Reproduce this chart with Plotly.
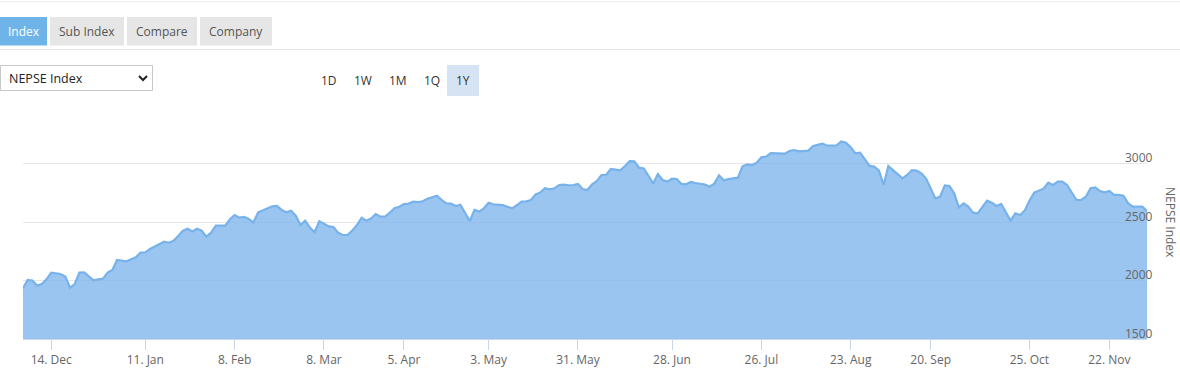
import datetime as dt
import plotly.graph_objects as go

# ---------------- data ----------------
start_date = "2020-12-06"
end_date = "2021-12-02"
holidays = [
    "2021-01-14", "2021-02-18", "2021-03-11", "2021-03-28", "2021-03-29",
    "2021-04-14", "2021-04-21", "2021-05-26", "2021-07-21", "2021-08-22",
    "2021-08-30", "2021-09-09", "2021-09-19", "2021-10-07", "2021-10-13",
    "2021-10-14", "2021-10-17", "2021-11-03", "2021-11-04", "2021-11-10",
]

nepse_values = [
    1933, 2004, 2000, 1956, 1970, 2010, 2067, 2061, 2056, 2033,
    1939, 1970, 2067, 2070, 2039, 2001, 2010, 2016, 2067, 2090,
    2175, 2169, 2164, 2181, 2198, 2238, 2241, 2269, 2289, 2312,
    2332, 2323, 2340, 2380, 2426, 2443, 2420, 2443, 2426, 2375,
    2409, 2469, 2466, 2469, 2523, 2560, 2537, 2543, 2526, 2495,
    2583, 2600, 2611, 2634, 2637, 2603, 2583, 2597, 2554, 2474,
    2511, 2452, 2412, 2506, 2486, 2463, 2457, 2409, 2389, 2389,
    2426, 2474, 2537, 2511, 2529, 2568, 2546, 2546, 2580, 2617,
    2631, 2654, 2657, 2674, 2671, 2677, 2699, 2715, 2725, 2690,
    2660, 2657, 2637, 2648, 2574, 2509, 2603, 2589, 2617, 2665,
    2651, 2651, 2645, 2631, 2617, 2643, 2674, 2677, 2688, 2736,
    2753, 2788, 2779, 2788, 2816, 2819, 2814, 2816, 2825, 2782,
    2773, 2822, 2850, 2902, 2904, 2953, 2944, 2941, 2979, 3021,
    3018, 2964, 2958, 2896, 2830, 2910, 2859, 2845, 2870, 2867,
    2825, 2822, 2842, 2833, 2825, 2819, 2802, 2828, 2899, 2856,
    2867, 2870, 2879, 2976, 2993, 2987, 3007, 3053, 3058, 3088,
    3086, 3081, 3084, 3107, 3115, 3104, 3104, 3110, 3150, 3161,
    3170, 3152, 3155, 3155, 3189, 3178, 3138, 3087, 3093, 3036,
    2979, 2973, 2939, 2816, 2979, 2944, 2910, 2873, 2902, 2944,
    2939, 2916, 2873, 2788, 2702, 2716, 2813, 2808, 2745, 2625,
    2660, 2631, 2580, 2574, 2625, 2682, 2665, 2637, 2654, 2588,
    2511, 2574, 2560, 2597, 2682, 2751, 2768, 2785, 2836, 2816,
    2845, 2845, 2816, 2751, 2688, 2688, 2716, 2788, 2796, 2765,
    2754, 2765, 2731, 2731, 2725, 2660, 2631, 2631, 2631, 2594,
]

tick_dates = ["2020-12-14", "2021-01-11", "2021-02-08", "2021-03-08", "2021-04-05",
              "2021-05-03", "2021-05-31", "2021-06-28", "2021-07-26", "2021-08-23",
              "2021-09-20", "2021-10-25", "2021-11-22"]
tick_labels = ["14. Dec", "11. Jan", "8. Feb", "8. Mar", "5. Apr", "3. May", "31. May",
               "28. Jun", "26. Jul", "23. Aug", "20. Sep", "25. Oct", "22. Nov"]

y_ticks = [1500, 2000, 2500, 3000, 3500]
y_tick_labels = ["1500", "2000", "2500", "3000", ""]

tabs = ["Index", "Sub Index", "Compare", "Company"]
range_buttons = ["1D", "1W", "1M", "1Q", "1Y"]

# ---------------- trading calendar (Sun-Thu, minus holidays) ----------------
d0 = dt.date.fromisoformat(start_date)
d1 = dt.date.fromisoformat(end_date)
hol = set(holidays)
trading_dates = []
d = d0
while d <= d1:
    if d.weekday() in (6, 0, 1, 2, 3) and d.isoformat() not in hol:
        trading_dates.append(d.isoformat())
    d += dt.timedelta(days=1)

n = min(len(trading_dates), len(nepse_values))
xs = list(range(n))
tickvals = [trading_dates.index(t) for t in tick_dates if t in trading_dates]

# ---------------- geometry helpers (page px -> paper) ----------------
W, H = 1180, 385
ML, MR, MT, MB = 23, 33, 105, 46
PW, PH = W - ML - MR, H - MT - MB


def X(px):
    return (px - ML) / PW


def Y(py):
    return (H - MB - py) / PH


FONT = "Open Sans"

fig = go.Figure()
fig.add_trace(go.Scatter(
    x=xs, y=nepse_values[:n], mode="lines",
    line=dict(color="#78b2ea", width=2.2),
    fill="tozeroy", fillcolor="rgba(124,181,236,0.78)",
    hoverinfo="skip", showlegend=False,
))

shapes = []
annotations = []

# top thin line and line under tabs
shapes.append(dict(type="line", xref="paper", yref="paper", x0=X(0), x1=X(1180), y0=Y(1.5), y1=Y(1.5),
                   line=dict(color="#ececec", width=1)))
shapes.append(dict(type="line", xref="paper", yref="paper", x0=X(0), x1=X(1180), y0=Y(49.5), y1=Y(49.5),
                   line=dict(color="#e3e3e3", width=1)))

# tabs
tab_boxes = [(0, 47), (50, 124), (127, 197), (200, 272)]
for i, (label, (a, b)) in enumerate(zip(tabs, tab_boxes)):
    active = i == 0
    shapes.append(dict(type="rect", xref="paper", yref="paper", x0=X(a), x1=X(b), y0=Y(45.5), y1=Y(17),
                       fillcolor="#6fb4e9" if active else "#e6e6e6", line=dict(width=0), layer="above"))
    annotations.append(dict(xref="paper", yref="paper", x=X((a + b) / 2), y=Y(31.5), text=label,
                            showarrow=False, xanchor="center", yanchor="middle",
                            font=dict(family=FONT, size=12, color="#ffffff" if active else "#555555")))

# dropdown
shapes.append(dict(type="rect", xref="paper", yref="paper", x0=X(0.5), x1=X(152.5), y0=Y(90.5), y1=Y(65.5),
                   fillcolor="#ffffff", line=dict(color="#c9c9c9", width=1), layer="above"))
annotations.append(dict(xref="paper", yref="paper", x=X(7), y=Y(78.5), text="NEPSE Index",
                        showarrow=False, xanchor="left", yanchor="middle",
                        font=dict(family=FONT, size=12.5, color="#222222")))
shapes.append(dict(type="path", xref="paper", yref="paper",
                   path=f"M {X(139)} {Y(76)} L {X(143)} {Y(80)} L {X(147)} {Y(76)}",
                   line=dict(color="#222222", width=2), layer="above"))

# range selector buttons
btn_centers = [329, 363, 397.5, 431.5, 463.5]
shapes.append(dict(type="rect", xref="paper", yref="paper", x0=X(447), x1=X(479), y0=Y(96), y1=Y(65),
                   fillcolor="#d5e3f3", line=dict(width=0), layer="above"))
for label, cx in zip(range_buttons, btn_centers):
    annotations.append(dict(xref="paper", yref="paper", x=X(cx), y=Y(80.5), text=label,
                            showarrow=False, xanchor="center", yanchor="middle",
                            font=dict(family=FONT, size=12, color="#333333")))

# y tick labels (placed through the y scale, sitting just above each grid line)
for val, lab in zip(y_ticks, y_tick_labels):
    if not lab:
        continue
    annotations.append(dict(xref="paper", yref="y", x=X(1155), y=val, text=lab,
                            showarrow=False, xanchor="right", yanchor="middle", yshift=6,
                            font=dict(family=FONT, size=12, color="#666666")))

# y axis title
annotations.append(dict(xref="paper", yref="paper", x=X(1171), y=Y(222), text="NEPSE Index",
                        showarrow=False, xanchor="center", yanchor="middle", textangle=90,
                        font=dict(family=FONT, size=12, color="#666666")))

fig.update_layout(
    width=W, height=H,
    margin=dict(l=ML, r=MR, t=MT, b=MB, pad=0),
    paper_bgcolor="#ffffff", plot_bgcolor="#ffffff",
    template="none",
    font=dict(family=FONT, size=12, color="#666666"),
    shapes=shapes, annotations=annotations,
    xaxis=dict(
        range=[0, n - 1], showgrid=False, zeroline=False,
        showline=True, linecolor="#ccd6eb", linewidth=1,
        ticks="outside", ticklen=10, tickcolor="#ccd6eb", tickwidth=1,
        tickvals=tickvals, ticktext=tick_labels,
        tickfont=dict(family=FONT, size=12, color="#666666"),
        automargin=False, fixedrange=True,
    ),
    yaxis=dict(
        side="right", range=[1500, 3500],
        tickvals=y_ticks, showticklabels=False,
        showgrid=True, gridcolor="#e6e6e6", gridwidth=1,
        zeroline=False, showline=False, ticks="",
        automargin=False, fixedrange=True,
    ),
    hovermode=False,
)

fig.write_html("out.html", config={"displayModeBar": False})
